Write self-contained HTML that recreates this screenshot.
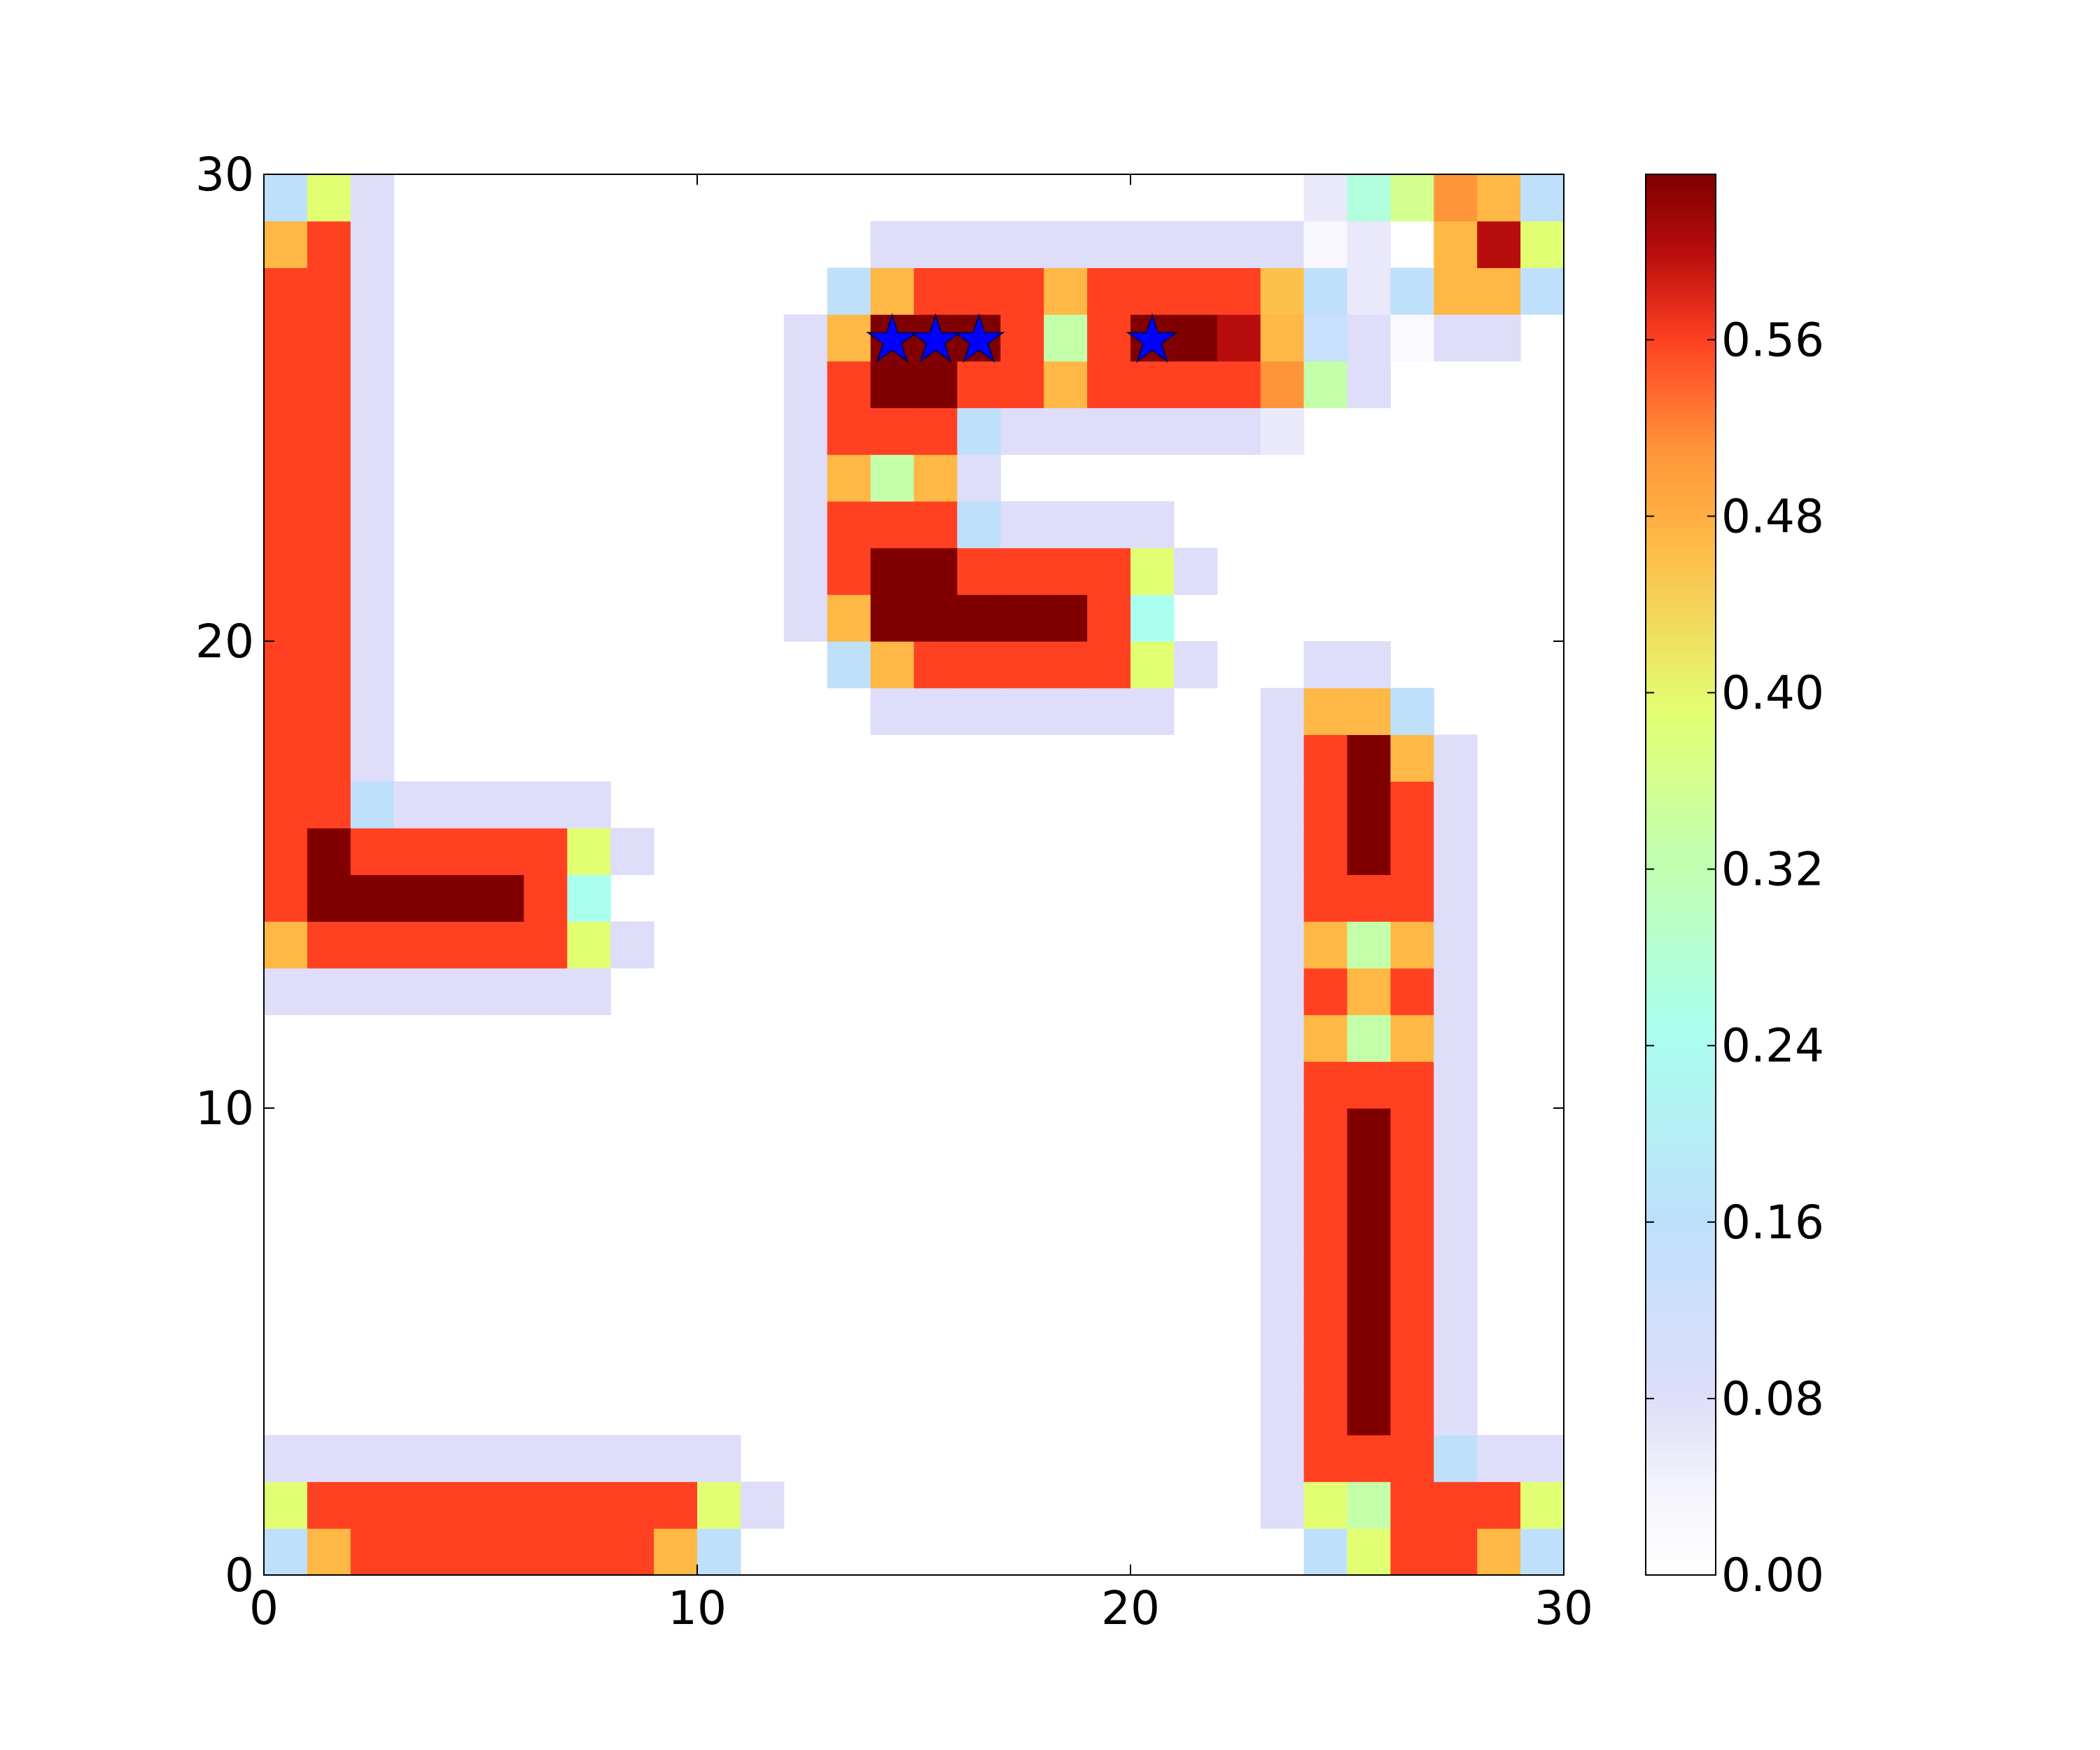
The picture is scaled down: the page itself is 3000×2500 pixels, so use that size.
<!DOCTYPE html>
<html><head><meta charset="utf-8"><style>
html,body{margin:0;padding:0;background:#fff;}
svg{display:block;font-family:"DejaVu Sans","Liberation Sans",sans-serif;}
</style></head>
<body>
<svg id="chart" width="3000" height="2500" viewBox="0 0 3000 2500" xmlns="http://www.w3.org/2000/svg">
<rect x="0" y="0" width="3000" height="2500" fill="#fff"/>
<g id="cells"></g>
<g id="stars"></g>
<rect x="377" y="249" width="1857" height="2001" fill="none" stroke="#000" stroke-width="2"/>
<g id="axes"></g>
<g id="cbar"></g>
</svg>
<script>
// z rows, index = y value (row 0 at bottom)
const z = [
[.16,.47,.56,.56,.56,.56,.56,.56,.56,.47,.16,0,0,0,0,0,0,0,0,0,0,0,0,0,.16,.39,.56,.56,.47,.16],
[.39,.56,.56,.56,.56,.56,.56,.56,.56,.56,.39,.08,0,0,0,0,0,0,0,0,0,0,0,.08,.39,.33,.56,.56,.56,.39],
[.08,.08,.08,.08,.08,.08,.08,.08,.08,.08,.08,0,0,0,0,0,0,0,0,0,0,0,0,.08,.56,.56,.56,.16,.08,.08],
[0,0,0,0,0,0,0,0,0,0,0,0,0,0,0,0,0,0,0,0,0,0,0,.08,.56,.635,.56,.08,0,0],
[0,0,0,0,0,0,0,0,0,0,0,0,0,0,0,0,0,0,0,0,0,0,0,.08,.56,.635,.56,.08,0,0],
[0,0,0,0,0,0,0,0,0,0,0,0,0,0,0,0,0,0,0,0,0,0,0,.08,.56,.635,.56,.08,0,0],
[0,0,0,0,0,0,0,0,0,0,0,0,0,0,0,0,0,0,0,0,0,0,0,.08,.56,.635,.56,.08,0,0],
[0,0,0,0,0,0,0,0,0,0,0,0,0,0,0,0,0,0,0,0,0,0,0,.08,.56,.635,.56,.08,0,0],
[0,0,0,0,0,0,0,0,0,0,0,0,0,0,0,0,0,0,0,0,0,0,0,.08,.56,.635,.56,.08,0,0],
[0,0,0,0,0,0,0,0,0,0,0,0,0,0,0,0,0,0,0,0,0,0,0,.08,.56,.635,.56,.08,0,0],
[0,0,0,0,0,0,0,0,0,0,0,0,0,0,0,0,0,0,0,0,0,0,0,.08,.56,.56,.56,.08,0,0],
[0,0,0,0,0,0,0,0,0,0,0,0,0,0,0,0,0,0,0,0,0,0,0,.08,.47,.33,.47,.08,0,0],
[.08,.08,.08,.08,.08,.08,.08,.08,0,0,0,0,0,0,0,0,0,0,0,0,0,0,0,.08,.56,.47,.56,.08,0,0],
[.47,.56,.56,.56,.56,.56,.56,.39,.08,0,0,0,0,0,0,0,0,0,0,0,0,0,0,.08,.47,.33,.47,.08,0,0],
[.56,.635,.635,.635,.635,.635,.56,.25,0,0,0,0,0,0,0,0,0,0,0,0,0,0,0,.08,.56,.56,.56,.08,0,0],
[.56,.635,.56,.56,.56,.56,.56,.39,.08,0,0,0,0,0,0,0,0,0,0,0,0,0,0,.08,.56,.635,.56,.08,0,0],
[.56,.56,.16,.08,.08,.08,.08,.08,0,0,0,0,0,0,0,0,0,0,0,0,0,0,0,.08,.56,.635,.56,.08,0,0],
[.56,.56,.08,0,0,0,0,0,0,0,0,0,0,0,0,0,0,0,0,0,0,0,0,.08,.56,.635,.47,.08,0,0],
[.56,.56,.08,0,0,0,0,0,0,0,0,0,0,0,.08,.08,.08,.08,.08,.08,.08,0,0,.08,.47,.47,.16,0,0,0],
[.56,.56,.08,0,0,0,0,0,0,0,0,0,0,.16,.47,.56,.56,.56,.56,.56,.39,.08,0,0,.08,.08,0,0,0,0],
[.56,.56,.08,0,0,0,0,0,0,0,0,0,.08,.47,.635,.635,.635,.635,.635,.56,.25,0,0,0,0,0,0,0,0,0],
[.56,.56,.08,0,0,0,0,0,0,0,0,0,.08,.56,.635,.635,.56,.56,.56,.56,.39,.08,0,0,0,0,0,0,0,0],
[.56,.56,.08,0,0,0,0,0,0,0,0,0,.08,.56,.56,.56,.16,.08,.08,.08,.08,0,0,0,0,0,0,0,0,0],
[.56,.56,.08,0,0,0,0,0,0,0,0,0,.08,.47,.33,.47,.08,0,0,0,0,0,0,0,0,0,0,0,0,0],
[.56,.56,.08,0,0,0,0,0,0,0,0,0,.08,.56,.56,.56,.16,.08,.08,.08,.08,.08,.08,.06,0,0,0,0,0,0],
[.56,.56,.08,0,0,0,0,0,0,0,0,0,.08,.56,.635,.635,.56,.56,.47,.56,.56,.56,.56,.51,.33,.08,0,0,0,0],
[.56,.56,.08,0,0,0,0,0,0,0,0,0,.08,.47,.635,.635,.635,.56,.33,.56,.635,.635,.60,.47,.14,.08,.02,.08,.08,0],
[.56,.56,.08,0,0,0,0,0,0,0,0,0,0,.16,.47,.56,.56,.56,.47,.56,.56,.56,.56,.46,.16,.06,.16,.47,.47,.16],
[.47,.56,.08,0,0,0,0,0,0,0,0,0,0,0,.08,.08,.08,.08,.08,.08,.08,.08,.08,.08,.03,.06,0,.47,.60,.39],
[.16,.39,.08,0,0,0,0,0,0,0,0,0,0,0,0,0,0,0,0,0,0,0,0,0,.06,.27,.36,.51,.47,.16]
];
const starX = [14.5, 15.5, 16.5, 20.5];
const starY = [26.5, 26.5, 26.5, 26.5];
const axisTicks = [0, 10, 20, 30];
const cbarTicks = [0, 0.08, 0.16, 0.24, 0.32, 0.40, 0.48, 0.56];
const cbarLabels = ["0.00","0.08","0.16","0.24","0.32","0.40","0.48","0.56"];
const vmax = 0.635;

const NS = "http://www.w3.org/2000/svg";
const PX0 = 377, PX1 = 2234, PY0 = 249, PY1 = 2250;
const xs = v => PX0 + (v / 30) * (PX1 - PX0);
const ys = v => PY1 - (v / 30) * (PY1 - PY0);
const CB0 = 2351, CB1 = 2451;
const cy = v => PY1 - (v / vmax) * (PY1 - PY0);

const stops = [[0,[255,255,255]],[0.04,[244,244,252]],[0.08,[222,222,250]],[0.16,[191,224,251]],
 [0.25,[170,255,238]],[0.33,[196,255,170]],[0.39,[226,255,116]],[0.47,[255,184,69]],
 [0.51,[255,149,58]],[0.56,[255,65,34]],[0.60,[184,13,13]],[0.635,[128,0,0]]];
function cmap(v){
  if (v <= stops[0][0]) return "rgb(255,255,255)";
  for (let i = 1; i < stops.length; i++) {
    if (v <= stops[i][0]) {
      const a = stops[i-1], b = stops[i], t = (v - a[0]) / (b[0] - a[0]);
      const c = a[1].map((q, k) => Math.round(q + (b[1][k] - q) * t));
      return "rgb(" + c.join(",") + ")";
    }
  }
  return "rgb(128,0,0)";
}
function mk(tag, attrs, parent){
  const e = document.createElementNS(NS, tag);
  for (const k in attrs) e.setAttribute(k, attrs[k]);
  parent.appendChild(e);
  return e;
}

const cells = document.getElementById("cells");
for (let r = 0; r < z.length; r++) {
  for (let c = 0; c < z[r].length; c++) {
    const v = z[r][c];
    if (v <= 0) continue;
    const x0 = xs(c), x1 = xs(c + 1), y0 = ys(r + 1), y1 = ys(r);
    const el = mk("rect", {x: x0, y: y0, width: x1 - x0 + 0.6, height: y1 - y0 + 0.6, fill: cmap(v)}, cells);
    
    
  }
}

const stars = document.getElementById("stars");
function starPts(cx, cyy, R){
  const pts = [], rIn = R * 0.382;
  for (let i = 0; i < 10; i++) {
    const a = -Math.PI / 2 + i * Math.PI / 5, rr = i % 2 ? rIn : R;
    pts.push((cx + rr * Math.cos(a)).toFixed(1) + "," + (cyy + rr * Math.sin(a)).toFixed(1));
  }
  return pts.join(" ");
}
for (let i = 0; i < starX.length; i++) {
  const s = mk("polygon", {points: starPts(xs(starX[i]), ys(starY[i]) + 4, 36), fill: "#0000ff", stroke: "#000055", "stroke-width": 2}, stars);
  
  
}

const axes = document.getElementById("axes");
for (const t of axisTicks) {
  const X = xs(t), Y = ys(t);
  let e;
  e = mk("line", {x1: X, y1: PY1, x2: X, y2: PY1 - 15, stroke: "#000", "stroke-width": 2}, axes);
  
  
  e = mk("line", {x1: X, y1: PY0, x2: X, y2: PY0 + 15, stroke: "#000", "stroke-width": 2}, axes);
  
  
  e = mk("line", {x1: PX0, y1: Y, x2: PX0 + 15, y2: Y, stroke: "#000", "stroke-width": 2}, axes);
  
  
  e = mk("line", {x1: PX1, y1: Y, x2: PX1 - 15, y2: Y, stroke: "#000", "stroke-width": 2}, axes);
  
  
  e = mk("text", {x: X, y: PY1 + 70, "font-size": 66, "text-anchor": "middle", fill: "#000"}, axes);
  e.textContent = String(t);
  
  
  e = mk("text", {x: PX0 - 14, y: Y + 23, "font-size": 66, "text-anchor": "end", fill: "#000"}, axes);
  e.textContent = String(t);
  
  
}

const cbar = document.getElementById("cbar");
const N = 400;
for (let i = 0; i < N; i++) {
  const v0 = vmax * i / N, v1 = vmax * (i + 1) / N;
  const e = mk("rect", {x: CB0, y: cy(v1), width: CB1 - CB0, height: cy(v0) - cy(v1) + 0.8, fill: cmap((v0 + v1) / 2)}, cbar);
  
  
}
let fr = mk("rect", {x: CB0, y: PY0, width: CB1 - CB0, height: PY1 - PY0, fill: "none", stroke: "#000", "stroke-width": 2}, cbar);


for (let i = 0; i < cbarTicks.length; i++) {
  const Y = cy(cbarTicks[i]);
  let e = mk("line", {x1: CB0, y1: Y, x2: CB0 + 12, y2: Y, stroke: "#000", "stroke-width": 2}, cbar);
  
  
  e = mk("line", {x1: CB1, y1: Y, x2: CB1 - 12, y2: Y, stroke: "#000", "stroke-width": 2}, cbar);
  
  
  e = mk("text", {x: CB1 + 8, y: Y + 23, "font-size": 66, "text-anchor": "start", fill: "#000"}, cbar);
  e.textContent = cbarLabels[i];
  
  
}
</script>
</body></html>
